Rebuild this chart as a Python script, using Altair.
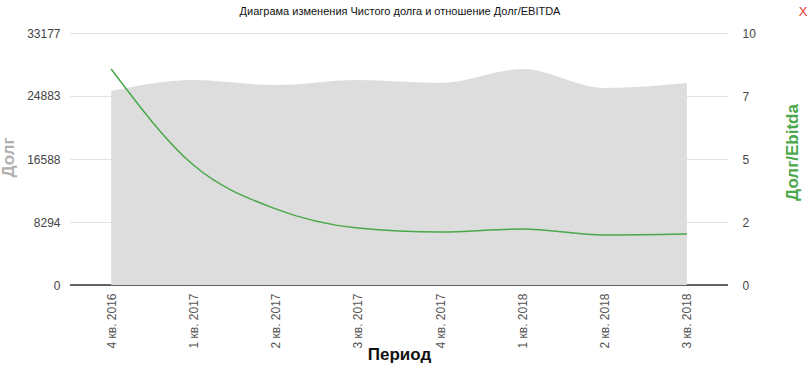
import altair as alt
import pandas as pd

periods = ["4 кв. 2016", "1 кв. 2017", "2 кв. 2017", "3 кв. 2017",
           "4 кв. 2017", "1 кв. 2018", "2 кв. 2018", "3 кв. 2018"]
debt = [25550, 26990, 26330, 26990, 26600, 28430, 25940, 26600]
debt_ebitda = [8.57, 4.76, 3.02, 2.26, 2.10, 2.22, 1.98, 2.02]

left_ticks = [0, 8294, 16588, 24883, 33177]
right_ticks = [0, 2.5, 5, 7.5, 10]

df = pd.DataFrame({"period": periods, "debt": debt, "ratio": debt_ebitda})

FONT = "Liberation Sans"
GREEN = "#4aa84a"

x_enc = alt.X(
    "period:N", sort=periods,
    scale=alt.Scale(type="point", padding=0.5),
    axis=alt.Axis(
        title="Период", labelAngle=-90, labelPadding=8, labelFontSize=12,
        labelColor="#555555", labelFont=FONT, domain=False, ticks=False,
        titleFont=FONT, titleFontSize=17, titleFontWeight="bold",
        titleColor="#111111", titleX=329, titleY=69, titleBaseline="middle",
        titleAlign="center",
    ),
)

base_rule = alt.Chart(pd.DataFrame({"v": [0]})).mark_rule(
    color="#333333", strokeWidth=1.5
).encode(
    y=alt.Y("v:Q", scale=alt.Scale(domain=[0, 33177]), axis=None),
    x=alt.value(0), x2=alt.value(658),
)

area = alt.Chart(df).mark_area(
    interpolate="monotone", color="#dddddd", opacity=1
).encode(
    x=x_enc,
    y=alt.Y(
        "debt:Q", scale=alt.Scale(domain=[0, 33177], nice=False, zero=True),
        axis=alt.Axis(
            values=left_ticks, title="Долг", labelFont=FONT, labelFontSize=12,
            labelColor="#444444", labelPadding=10, ticks=False, domain=False,
            grid=True, gridColor="#e3e3e3", format="d",
            titleFont=FONT, titleFontSize=17, titleFontWeight="bold",
            titleColor="#b0b0b0", titleAngle=-90, titleX=-62, titleY=124,
            titleAlign="center", titleBaseline="middle",
        ),
    ),
)

line = alt.Chart(df).mark_line(
    interpolate="monotone", color=GREEN, strokeWidth=1.5
).encode(
    x=alt.X("period:N", sort=periods, scale=alt.Scale(type="point", padding=0.5)),
    y=alt.Y(
        "ratio:Q", scale=alt.Scale(domain=[0, 10], nice=False),
        axis=alt.Axis(
            orient="right", values=right_ticks, labelExpr="floor(datum.value)",
            title="Долг/Ebitda", labelFont=FONT, labelFontSize=12,
            labelColor="#444444", labelPadding=14, ticks=False, domain=False,
            grid=False,
            titleFont=FONT, titleFontSize=17, titleFontWeight="bold",
            titleColor=GREEN, titleAngle=-90, titleX=64, titleY=119,
            titleAlign="center", titleBaseline="middle",
        ),
    ),
)

close_x = alt.Chart(pd.DataFrame({"t": ["X"]})).mark_text(
    color="#e53935", fontSize=13, font=FONT, align="center", baseline="middle"
).encode(text="t:N", x=alt.value(733), y=alt.value(-21))

title_text = alt.Chart(pd.DataFrame({"t": ["Диаграма изменения Чистого долга и отношение Долг/EBITDA"]})).mark_text(
    color="#111111", fontSize=11, font=FONT, align="center", baseline="middle"
).encode(text="t:N", x=alt.value(330), y=alt.value(-21))

chart = alt.layer(base_rule, area, line, close_x, title_text).resolve_scale(
    y="independent"
).properties(
    width=658, height=252,
    autosize=alt.AutoSizeParams(type="none"),
    padding={"left": 70, "top": 33, "right": 79, "bottom": 93},
).configure_view(stroke=None)

chart.save("out.html", embed_options={"renderer": "svg", "actions": False})
